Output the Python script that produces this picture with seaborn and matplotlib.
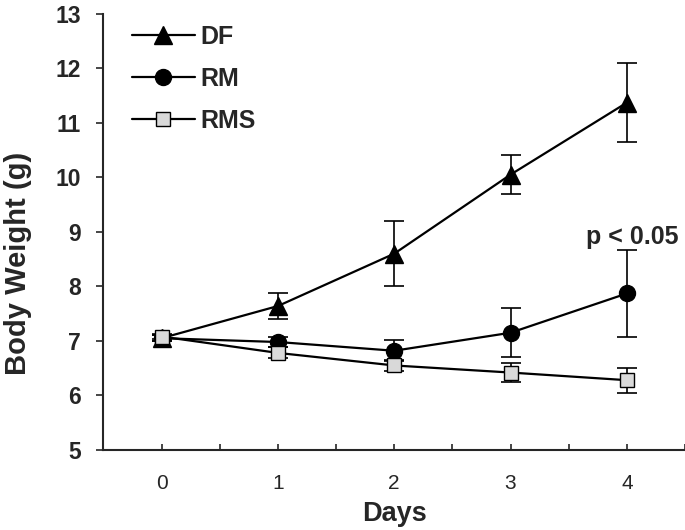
import matplotlib
matplotlib.use("Agg")
import matplotlib.pyplot as plt
import seaborn as sns
import pandas as pd

days = [0, 1, 2, 3, 4]
groups = ["DF", "RM", "RMS"]
df_mean = [7.05, 7.64, 8.6, 10.05, 11.37]
df_err = [0.05, 0.24, 0.6, 0.36, 0.72]
rm_mean = [7.05, 6.98, 6.82, 7.15, 7.87]
rm_err = [0.05, 0.09, 0.19, 0.45, 0.8]
rms_mean = [7.08, 6.78, 6.55, 6.42, 6.28]
rms_err = [0.05, 0.1, 0.1, 0.17, 0.23]

sns.set_style("ticks")
plt.rcParams["font.family"] = ["Liberation Sans", "DejaVu Sans"]

fig = plt.figure(figsize=(6.85, 5.3), dpi=100)
ax = fig.add_axes([0.151, 0.151, 0.849, 0.823])

series = {
    "DF": (df_mean, df_err, "^", "black", 13),
    "RM": (rm_mean, rm_err, "o", "black", 11.5),
    "RMS": (rms_mean, rms_err, "s", "#d9d9d9", 10.5),
}

for g in groups:
    mean, err, mk, fc, ms = series[g]
    d = pd.DataFrame({"Days": days, "Weight": mean})
    ax.errorbar(d["Days"], d["Weight"], yerr=err, fmt="none", ecolor="black",
                elinewidth=1.2, capsize=7, capthick=1.2, zorder=2)
    sns.lineplot(data=d, x="Days", y="Weight", ax=ax, color="black", linewidth=1.6,
                 marker=mk, markersize=ms, markerfacecolor=fc, markeredgecolor="black",
                 markeredgewidth=1.0, label=g, zorder=3)

ax.set_xlim(-0.5, 4.5)
ax.set_ylim(5, 13)
ax.set_xticks([-0.5, 0, 0.5, 1, 1.5, 2, 2.5, 3, 3.5, 4, 4.5])
ax.set_xticklabels(["", "0", "", "1", "", "2", "", "3", "", "4", ""], fontsize=15)
ax.set_yticks(range(5, 14))
ax.set_yticklabels([str(v) for v in range(5, 14)], fontsize=16.5, fontweight="bold")
ax.tick_params(axis="x", direction="in", length=4, width=1.2, pad=17)
ax.tick_params(axis="y", direction="out", length=5, width=1.2, pad=11)
for s in ["left", "bottom"]:
    ax.spines[s].set_linewidth(1.5)
sns.despine(ax=ax)

ax.set_xlabel("Days", fontsize=19.5, fontweight="bold", labelpad=6)
ax.set_ylabel("Body Weight (g)", fontsize=21, fontweight="bold")
ax.yaxis.set_label_coords(-0.122, 0.427)

ax.text(4.05, 8.77, "p < 0.05", ha="center", va="baseline", fontsize=18, fontweight="bold")

leg = ax.legend(loc="upper left", bbox_to_anchor=(132 / 685, 1 - 25 / 530),
                bbox_transform=fig.transFigure, frameon=False, borderpad=0,
                borderaxespad=0, prop={"size": 18, "weight": "bold"},
                handlelength=2.5, labelspacing=0.72, handletextpad=0.25)

fig.savefig("out.png", dpi=100)
